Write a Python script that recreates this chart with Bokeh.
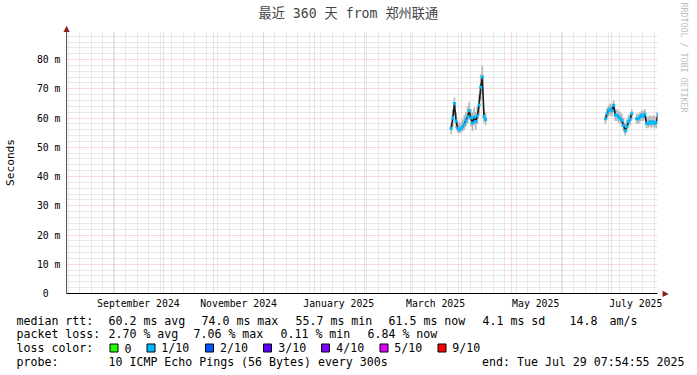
import numpy as np
import pandas as pd
from bokeh.plotting import figure
from bokeh.layouts import column
from bokeh.models import FixedTicker, LinearAxis, Title, Range1d, ColumnDataSource
from bokeh.embed import file_html
from bokeh.resources import INLINE
from bokeh.core.properties import value

# ---------------- data ----------------
title_text = "最近 360 天 from 郑州联通"
y_axis_title = "Seconds"
watermark = "RRDTOOL / TOBI OETIKER"

x_start = "2024-08-03 04:48"
x_end = "2025-07-29 04:48"
y_top = 89.6

y_ticks = [0, 10, 20, 30, 40, 50, 60, 70, 80]
y_tick_labels = ["0\u00a0\u00a0", "10 m", "20 m", "30 m", "40 m", "50 m", "60 m", "70 m", "80 m"]

month_labels = ["September 2024", "November 2024", "January 2025", "March 2025", "May 2025", "July 2025"]
month_label_dates = ["2024-09-16", "2024-11-16", "2025-01-16", "2025-03-16", "2025-05-16", "2025-07-16"]

# first block of measurements (ms)
dates_a = ["2025-03-25", "2025-03-26", "2025-03-27", "2025-03-28", "2025-03-29", "2025-03-30",
           "2025-03-31", "2025-04-01", "2025-04-02", "2025-04-03", "2025-04-04", "2025-04-05",
           "2025-04-06", "2025-04-07", "2025-04-08", "2025-04-09", "2025-04-10", "2025-04-11",
           "2025-04-12", "2025-04-13", "2025-04-14", "2025-04-15"]
median_a = [56.4, 60.0, 65.0, 59.0, 56.5, 56.0, 56.3, 57.0, 58.0, 59.2, 60.5, 62.5,
            60.0, 58.3, 60.4, 58.8, 60.8, 64.5, 70.5, 74.0, 60.5, 59.5]
smoke_hi_a = [58.5, 63.0, 67.0, 62.0, 59.0, 58.5, 58.5, 59.5, 61.0, 62.0, 64.0, 65.5,
              63.0, 62.0, 63.5, 62.0, 64.0, 68.0, 75.0, 78.0, 63.0, 62.0]
smoke_lo_a = [54.5, 57.0, 61.0, 56.5, 55.0, 54.8, 55.0, 55.5, 56.0, 57.0, 58.0, 59.5,
              57.0, 55.5, 57.5, 56.0, 58.0, 61.0, 66.0, 68.0, 58.5, 57.5]

# second block of measurements (ms), NaN = no data
dates_b = ["2025-06-27", "2025-06-28", "2025-06-29", "2025-06-30", "2025-07-01", "2025-07-02",
           "2025-07-03", "2025-07-04", "2025-07-05", "2025-07-06", "2025-07-07", "2025-07-08",
           "2025-07-09", "2025-07-10", "2025-07-11", "2025-07-12", "2025-07-13", "2025-07-14",
           "2025-07-15", "2025-07-16", "2025-07-17", "2025-07-18", "2025-07-19", "2025-07-20",
           "2025-07-21", "2025-07-22", "2025-07-23", "2025-07-24", "2025-07-25", "2025-07-26",
           "2025-07-27", "2025-07-28", "2025-07-29"]
median_b = [59.8, 61.5, 62.7, 63.2, 62.5, 64.4, 61.0, 61.0, 60.4, 59.8, 59.2, 57.5,
            55.7, 57.0, 58.7, 59.5, 61.5, np.nan, np.nan, 59.8, 59.8, 60.4, 61.0, 60.6,
            61.3, 58.1, 58.1, 58.7, 58.3, 58.7, 58.1, 58.5, 61.5]
smoke_hi_b = [61.5, 63.5, 64.5, 65.0, 64.5, 66.0, 63.0, 63.0, 62.5, 62.0, 61.5, 60.0,
              58.5, 59.5, 61.0, 61.5, 63.0, np.nan, np.nan, 61.5, 61.5, 62.0, 62.5, 62.5,
              63.0, 60.5, 60.5, 61.0, 60.5, 61.0, 60.5, 60.5, 63.0]
smoke_lo_b = [58.0, 59.5, 60.5, 61.0, 60.5, 62.0, 59.0, 59.0, 58.5, 58.0, 57.0, 55.5,
              54.0, 55.0, 56.5, 57.5, 59.5, np.nan, np.nan, 58.0, 58.0, 58.5, 59.0, 59.0,
              59.5, 56.5, 56.5, 57.0, 56.5, 57.0, 56.5, 56.5, 59.5]

loss_labels = ["0", "1/10", "2/10", "3/10", "4/10", "5/10", "9/10"]
loss_colors = ["#26ff00", "#00b8ff", "#0059ff", "#5e00ff", "#7e00ff", "#dd00ff", "#ff0000"]

rtt_row = ["median rtt:", "60.2 ms avg", "74.0 ms max", "55.7 ms min", "61.5 ms now", "4.1 ms sd", "14.8", "am/s"]
loss_row = ["packet loss:", "2.70 % avg", "7.06 % max", "0.11 % min", "6.84 % now"]
probe_row = ["probe:", "10 ICMP Echo Pings (56 Bytes) every 300s"]
end_text = "end: Tue Jul 29 07:54:55 2025"

# ---------------- layout (pixels) ----------------
W = 697
H_MAIN = 313
H_LEG = 62
MONO = "'DejaVu Sans Mono', 'Noto Sans CJK SC'"
AX_FONT = "9.8px"
LEG_FONT = "11.6px"
arrow_col = "#8b1e1e"

t0 = pd.Timestamp(x_start)
t1 = pd.Timestamp(x_end)
to_ms = lambda ts: [int(pd.Timestamp(t).value // 10**6) for t in ts]

p = figure(width=W, height=H_MAIN, x_axis_type="datetime", output_backend="svg", toolbar_location=None,
           x_range=Range1d(t0, t1), y_range=Range1d(0, y_top),
           min_border_left=66, min_border_right=31, min_border_top=31, min_border_bottom=20)
p.outline_line_color = None
p.background_fill_color = "white"
p.border_fill_color = "white"

# title
p.title.text = title_text
p.title.align = "left"
p.title.offset = 192
p.title.text_font = MONO
p.title.text_font_size = "13.2px"
p.title.text_font_style = "normal"
p.title.standoff = 0

# grids
month_starts = pd.date_range("2024-09-01", "2025-07-01", freq="MS")
sundays = pd.date_range(t0, t1, freq="W-SUN")
month_ms = to_ms(month_starts)
sunday_ms = [m for m in to_ms(sundays) if m not in month_ms]

for g in (p.xgrid[0], p.ygrid[0]):
    g.grid_line_color = "#f0b2b2"
    g.grid_line_dash = "1 1"
    g.minor_grid_line_color = "#d2d2d2"
    g.minor_grid_line_dash = "1 1"
p.xgrid.ticker = FixedTicker(ticks=month_ms, minor_ticks=sunday_ms)
p.ygrid.ticker = FixedTicker(ticks=y_ticks[1:], minor_ticks=[v for v in range(2, 90, 2) if v % 10])

# axes
label_ms = to_ms(month_label_dates)
p.xaxis.ticker = FixedTicker(ticks=label_ms)
p.xaxis.major_label_overrides = {k: v for k, v in zip(label_ms, month_labels)}
p.yaxis.ticker = FixedTicker(ticks=y_ticks)
p.yaxis.major_label_overrides = {k: v for k, v in zip(y_ticks, y_tick_labels)}
for ax in (p.xaxis[0], p.yaxis[0]):
    ax.major_tick_line_color = None
    ax.minor_tick_line_color = None
    ax.major_tick_out = 0
    ax.major_tick_in = 0
    ax.minor_tick_out = 0
    ax.major_label_text_font = "DejaVu Sans Mono"
    ax.major_label_text_font_size = AX_FONT
    ax.major_label_text_color = "black"
p.xaxis.axis_line_color = "black"
p.yaxis.axis_line_color = "#555555"
p.xaxis.major_label_standoff = 4
p.yaxis.major_label_standoff = 6
p.yaxis.axis_label = y_axis_title
p.yaxis.axis_label_text_font = "DejaVu Sans Mono"
p.yaxis.axis_label_text_font_size = "11.2px"
p.yaxis.axis_label_text_font_style = "normal"
p.yaxis.axis_label_text_color = "black"
p.yaxis.axis_label_standoff = 17

# arrow heads at the axis ends (drawn as single-tick axis labels)
top_arrow = LinearAxis(ticker=FixedTicker(ticks=[to_ms([t0])[0]]),
                       major_label_overrides={to_ms([t0])[0]: "\u25b2"}, major_label_standoff=-7)
right_arrow = LinearAxis(ticker=FixedTicker(ticks=[0]), major_label_overrides={0: "\u25b6"},
                         major_label_standoff=-1)
for ax in (top_arrow, right_arrow):
    ax.axis_line_color = None
    ax.major_tick_line_color = None
    ax.minor_tick_line_color = None
    ax.major_label_text_color = arrow_col
    ax.major_label_text_font = "DejaVu Sans"
    ax.major_label_text_font_size = "8px"
p.add_layout(top_arrow, "above")
p.add_layout(right_arrow, "right")

# watermark
p.add_layout(Title(text=watermark, align="left", offset=-29, standoff=14,
                   text_font="DejaVu Sans Mono", text_font_size="8.3px",
                   text_font_style="normal", text_color="#bdbdbd"), "right")

# data
day = 24 * 3600 * 1000
for d, med, hi, lo in ((dates_a, median_a, smoke_hi_a, smoke_lo_a), (dates_b, median_b, smoke_hi_b, smoke_lo_b)):
    src = ColumnDataSource(dict(x=pd.to_datetime(d) + pd.Timedelta(hours=12),
                                med=np.array(med), hi=np.array(hi), lo=np.array(lo)))
    p.vbar(x="x", top="hi", bottom="lo", width=day, source=src, fill_color="#b8b8b8", line_color=None)
    p.line(x="x", y="med", source=src, line_color="#1a1a1a", line_width=1.6)
    p.scatter(x="x", y="med", source=src, marker="square", size=3, fill_color=loss_colors[1],
              line_color=None)

# ---------------- legend block (pixel coordinates) ----------------
q = figure(frame_width=W, frame_height=H_LEG, output_backend="svg", toolbar_location=None,
           x_range=Range1d(0, W), y_range=Range1d(H_MAIN + H_LEG, H_MAIN),
           min_border=0, x_axis_location=None, y_axis_location=None)
try:
    q.frame_align = False
except Exception:
    pass
q.outline_line_color = None
q.grid.visible = False
q.background_fill_color = "white"
q.border_fill_color = "white"

row_y = [320, 333.5, 347.5, 361]
rtt_x = [16, 108, 201, 295, 388, 482, 569, 609]
loss_x = [16, 108, 193, 280, 367]
box_x = [109.5, 146.5, 205, 263, 321, 379.5, 437.5]
txt_x = [124, 160.7, 219.6, 277.7, 335.7, 393.8, 451.8]

left_texts = rtt_row + loss_row + ["loss color:"] + loss_labels + probe_row
left_x = rtt_x + loss_x + [16] + txt_x + [16, 108]
left_y = ([row_y[0]] * len(rtt_row) + [row_y[1]] * len(loss_row) + [row_y[2]] * (1 + len(loss_labels))
          + [row_y[3]] * len(probe_row))
q.text(x=left_x, y=left_y, text=left_texts, text_font=value("DejaVu Sans Mono"), text_font_size=LEG_FONT,
       text_baseline="middle", text_align="left", text_color="black")
q.text(x=[684], y=[row_y[3]], text=[end_text], text_font=value("DejaVu Sans Mono"), text_font_size=LEG_FONT,
       text_baseline="middle", text_align="right", text_color="black")
q.quad(left=box_x, right=[b + 8 for b in box_x], top=[row_y[2] - 4] * len(box_x),
       bottom=[row_y[2] + 4] * len(box_x), fill_color=loss_colors, line_color="black", line_width=1)

layout = column(p, q, spacing=0)
open("out.html", "w").write(file_html(layout, INLINE))
